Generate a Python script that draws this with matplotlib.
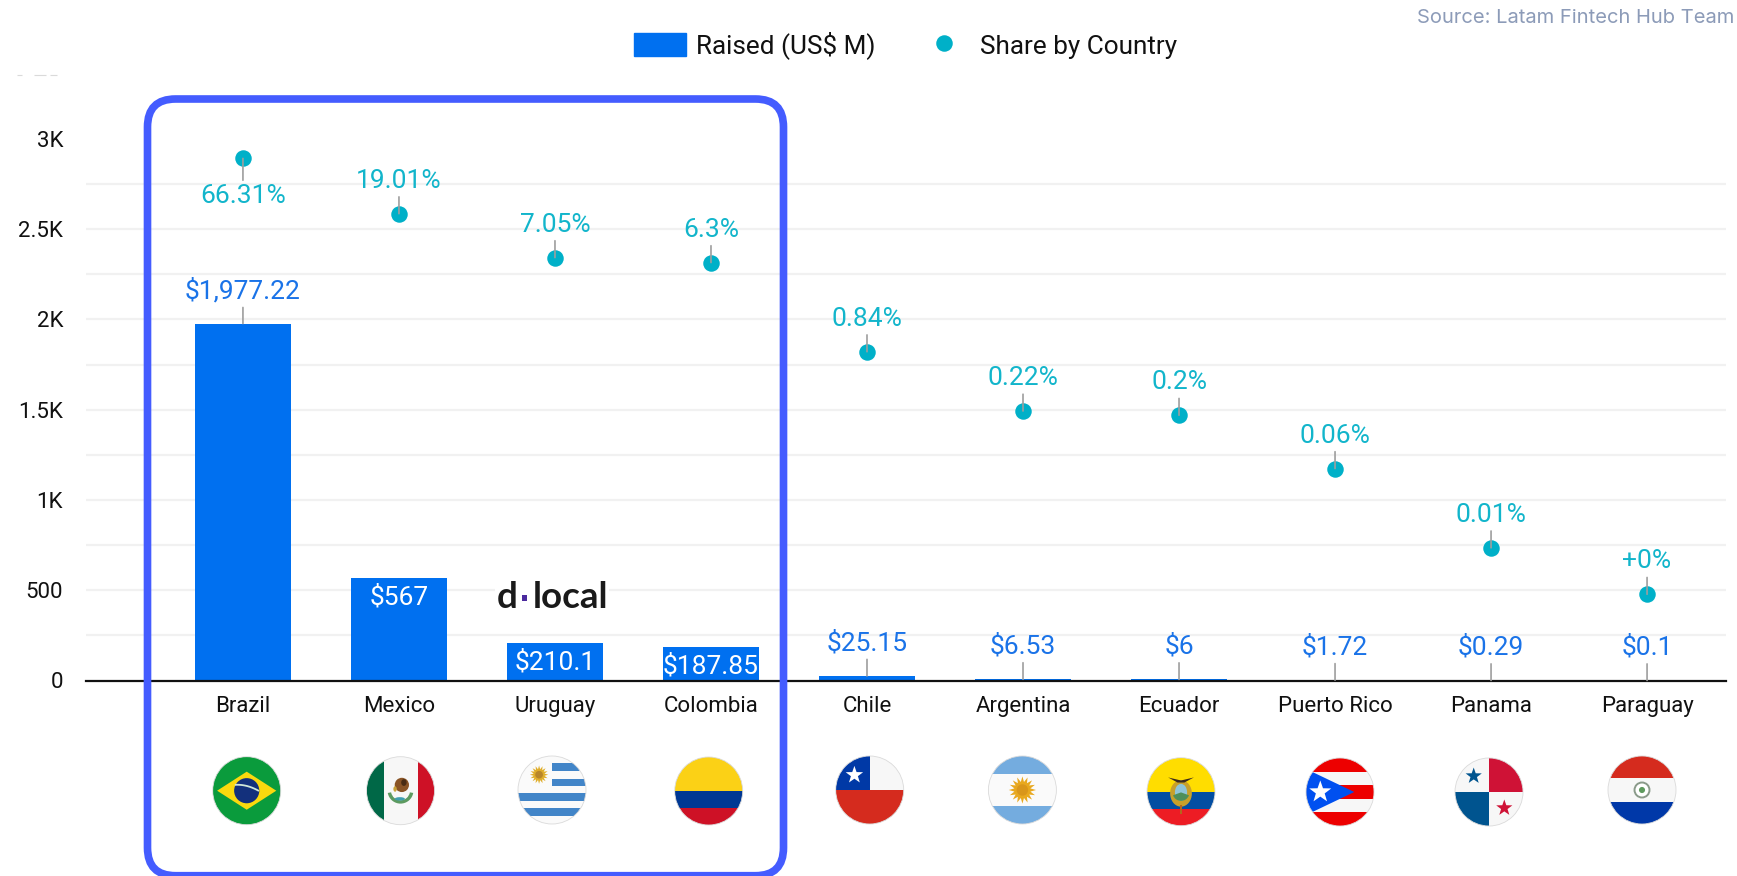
import numpy as np
import matplotlib
matplotlib.use("Agg")
import matplotlib.pyplot as plt
from matplotlib.patches import Rectangle, Circle, Polygon, FancyBboxPatch, Wedge, Ellipse
from matplotlib.lines import Line2D
from matplotlib.transforms import Affine2D

plt.rcParams['font.family'] = ['Roboto', 'DejaVu Sans']

countries = ["Brazil", "Mexico", "Uruguay", "Colombia", "Chile", "Argentina",
             "Ecuador", "Puerto Rico", "Panama", "Paraguay"]
raised = [1977.22, 567, 210.1, 187.85, 25.15, 6.53, 6, 1.72, 0.29, 0.1]
raised_labels = ["$1,977.22", "$567", "$210.1", "$187.85", "$25.15", "$6.53",
                 "$6", "$1.72", "$0.29", "$0.1"]
share = [66.31, 19.01, 7.05, 6.3, 0.84, 0.22, 0.2, 0.06, 0.01, 0.0035]
share_labels = ["66.31%", "19.01%", "7.05%", "6.3%", "0.84%", "0.22%", "0.2%",
                "0.06%", "0.01%", "+0%"]
y_ticks = [0, 500, 1000, 1500, 2000, 2500, 3000]
y_ticklabels = ["0", "500", "1K", "1.5K", "2K", "2.5K", "3K"]
y_grid = [250, 500, 750, 1000, 1250, 1500, 1750, 2000, 2250, 2500, 2750]

BAR = "#0070F0"
DOT = "#00B0C8"
SHARE_TXT = "#12B5CB"
BAR_TXT = "#1A73E8"
LEADER = "#9E9E9E"
BOX = "#445CFF"

W, H = 1737, 876
fig = plt.figure(figsize=(W / 100, H / 100), dpi=100, facecolor="white")
ax = fig.add_axes([86 / W, (H - 680.5) / H, 1640 / W, 605.5 / H])
x = np.arange(len(countries))
ax.set_xlim(-1.006, 9.506)
ax.set_ylim(0, 3354)
for s in ["top", "right", "left"]:
    ax.spines[s].set_visible(False)
ax.spines["bottom"].set_linewidth(1.6)
ax.spines["bottom"].set_color("#111111")
ax.spines["bottom"].set_zorder(6)
for g in y_grid:
    ax.axhline(g, color="#F1F1F1", lw=1.6, zorder=0)
bars = ax.bar(x, raised, width=0.618, color=BAR, zorder=2, label="Raised (US$ M)")
ax.set_yticks(y_ticks)
ax.set_yticklabels(y_ticklabels, fontsize=16, color="#111111")
ax.set_xticks(x)
ax.set_xticklabels(countries, fontsize=16, color="#111111")
ax.tick_params(axis="y", length=0, pad=16.5)
ax.tick_params(axis="x", length=0, pad=11.5)

ax2 = ax.twinx()
ax2.set_yscale("log")
ax2.set_ylim(10 ** -3.302, 10 ** 2.640)
ax2.axis("off")
dots = ax2.scatter(x, share, s=141, color=DOT, zorder=5, label="Share by Country", linewidths=0)


def note(a, xv, yv, text, off, color, leader=True):
    props = dict(arrowstyle="-", color=LEADER, lw=1.2, shrinkA=1, shrinkB=0) if leader else None
    a.annotate(text, xy=(xv, yv), xytext=(0, off), textcoords="offset pixels",
               ha="center", va="center", fontsize=19, color=color,
               arrowprops=props, zorder=7)


for i, (v, t) in enumerate(zip(raised, raised_labels)):
    if i in (1, 2, 3):
        note(ax, i, v, t, -19.5, "white", leader=False)
    else:
        note(ax, i, v, t, 33, BAR_TXT)
for i, (v, t) in enumerate(zip(share, share_labels)):
    note(ax2, i, v, t, -38 if i == 0 else 33, SHARE_TXT)

leg = fig.legend(handles=[Rectangle((0, 0), 1, 1, color=BAR),
                          Line2D([], [], marker="o", ls="", ms=11.9, color=DOT, mew=0)],
                 labels=["Raised (US$ M)", "Share by Country"],
                 ncol=2, frameon=False, fontsize=18.8, loc="center left",
                 bbox_to_anchor=(634 / W, (H - 45.5) / H), borderpad=0, borderaxespad=0,
                 handlelength=1.99, handleheight=0.96, handletextpad=0.38,
                 columnspacing=1.62, labelcolor="#111111")

fig.text(1734.5 / W, (H - 18) / H, "Source: Latam Fintech Hub Team", ha="right", va="center",
         fontsize=14.5, color="#8C9BB8", family=["Inter", "DejaVu Sans"])

# overlay in pixel coordinates for the annotation box, logo and flags
ov = fig.add_axes([0, 0, 1, 1], zorder=10)
ov.set_xlim(0, W)
ov.set_ylim(H, 0)
ov.axis("off")
ov.patch.set_alpha(0)

for x0, x1 in [(17, 22), (34, 46), (50, 57)]:
    ov.plot([x0, x1], [75, 75], color="#DADADA", lw=0.8, solid_capstyle="butt")

R_BOX = 28
ov.add_patch(FancyBboxPatch((147.5 + R_BOX, 99 + R_BOX), 636 - 2 * R_BOX, 776.7 - 2 * R_BOX,
                            boxstyle=f"round,pad={R_BOX},rounding_size={R_BOX}",
                            fc="none", ec=BOX, lw=5.5, zorder=3))
ov.add_patch(Rectangle((495, 578), 114, 32, fc="white", ec="none", zorder=1))
ov.text(497, 608, "d", fontsize=26.5, fontweight="bold", family=["Lato", "DejaVu Sans"],
        color="#1A1A1A", ha="left", va="baseline", zorder=4)
ov.add_patch(Rectangle((522, 595), 5, 5.7, fc="#4B2A9E", ec="none", zorder=4))
ov.text(533, 608, "local", fontsize=26.5, fontweight="bold", family=["Lato", "DejaVu Sans"],
        color="#1A1A1A", ha="left", va="baseline", zorder=4)

flag_x = [246.7, 400.5, 552, 708.7, 869.7, 1022.4, 1181, 1340, 1489, 1642]
flag_y = [790.7, 790.7, 790, 791, 790, 790, 791.7, 792, 792, 790]
FLAG_R = 34


def star(cx, cy, r, n=5, inner=0.4):
    ang = np.pi / 2 + np.arange(2 * n) * np.pi / n
    rad = np.where(np.arange(2 * n) % 2 == 0, r, r * inner)
    return np.column_stack([cx + rad * np.cos(ang), cy + rad * np.sin(ang)])


def sun(parts, cx, cy, r, c1="#E8A81E", c2="#C98A1B"):
    parts.append(Polygon(star(cx, cy, r, n=16, inner=0.6), fc=c1, ec="none"))
    parts.append(Circle((cx, cy), r * 0.42, fc=c2, ec="none"))


def rect(x0, y0, x1, y1, c):
    return Rectangle((x0, y0), x1 - x0, y1 - y0, fc=c, ec="none")


def flag_parts(name):
    p = []
    if name == "Brazil":
        p.append(rect(-1, -1, 1, 1, "#0A9B3C"))
        p.append(Polygon([(-.87, 0), (0, .56), (.87, 0), (0, -.56)], fc="#FAD90E", ec="none"))
        p.append(Circle((0, 0), .37, fc="#13307C", ec="none"))
        t = np.linspace(-.35, .36, 20)
        p.append(Polygon(np.column_stack([t, .12 - .25 * t - .45 * t ** 2 + .02]), closed=False,
                         fill=False, ec="#CFE6D8", lw=1.3))
    elif name == "Mexico":
        p += [rect(-1, -1, -.5, 1, "#006847"), rect(-.5, -1, .5, 1, "#F7F7F7"), rect(.5, -1, 1, 1, "#CE1126")]
        p.append(Wedge((0, .0), .38, 190, 350, width=.1, fc="#5C9A60", ec="none"))
        p.append(Ellipse((.04, .17), .42, .42, fc="#8A5426", ec="none"))
        p.append(Ellipse((.1, .24), .16, .2, fc="#4A2C14", ec="none"))
        p.append(Ellipse((-.02, -.24), .3, .1, fc="#3F9EB0", ec="none"))
        p.append(Ellipse((-.16, .05), .1, .16, fc="#C9A23A", ec="none"))
    elif name == "Uruguay":
        p.append(rect(-1, -1, 1, 1, "#FAFAFA"))
        for a, b, x0 in [(.57, .78, 0), (.13, .33, 0), (-.31, -.09, -1), (-.76, -.53, -1)]:
            p.append(rect(x0, a, 1, b, "#4285C8"))
        sun(p, -.38, .45, .27, "#E0AE2A", "#B8862A")
    elif name == "Colombia":
        p += [rect(-1, 0, 1, 1, "#FBD116"), rect(-1, -.5, 1, 0, "#003893"), rect(-1, -1, 1, -.5, "#CE1126")]
    elif name == "Chile":
        p += [rect(-1, 0, 1, 1, "#F7F7F7"), rect(-1, -1, 1, 0, "#D52B1E"), rect(-1, 0, 0, 1, "#0039A6")]
        p.append(Polygon(star(-.45, .44, .27), fc="white", ec="none"))
    elif name == "Argentina":
        p += [rect(-1, .46, 1, 1, "#74ACDF"), rect(-1, -.46, 1, .46, "#FAFAFA"), rect(-1, -1, 1, -.46, "#74ACDF")]
        sun(p, 0, 0, .4, "#E8A81E", "#D9961A")
    elif name == "Ecuador":
        p += [rect(-1, 0, 1, 1, "#FFDD00"), rect(-1, -.5, 1, 0, "#034EA2"), rect(-1, -1, 1, -.5, "#ED1C24")]
        p.append(Ellipse((0, -.05), .64, .78, fc="#C8A02A", ec="none"))
        p.append(Ellipse((0, -.02), .36, .5, fc="#8FC4D8", ec="none"))
        p.append(Wedge((0, -.02), .25, 200, 340, fc="#4E8F5A", ec="none"))
        p.append(Polygon([(-.38, .42), (0, .33), (.38, .42), (.1, .27), (-.1, .27)], fc="#3A2A1E", ec="none"))
        p.append(rect(-.04, -.65, .04, -.38, "#B5651D"))
    elif name == "Puerto Rico":
        p.append(rect(-1, -1, 1, 1, "#F7F7F7"))
        for a, b in [(.6, 1), (-.2, .2), (-1, -.6)]:
            p.append(rect(-1, a, 1, b, "#ED0000"))
        p.append(Polygon([(-1.15, .75), (-1.15, -.75), (.42, 0)], fc="#0050F0", ec="none"))
        p.append(Polygon(star(-.58, 0, .34), fc="white", ec="none"))
    elif name == "Panama":
        p += [rect(-1, 0, 0, 1, "#F7F7F7"), rect(0, 0, 1, 1, "#CF1236"),
              rect(-1, -1, 0, 0, "#00548F"), rect(0, -1, 1, 0, "#F7F7F7")]
        p.append(Polygon(star(-.45, .47, .25), fc="#00548F", ec="none"))
        p.append(Polygon(star(.45, -.47, .25), fc="#CF1236", ec="none"))
    elif name == "Paraguay":
        p += [rect(-1, .34, 1, 1, "#D52B1E"), rect(-1, -.34, 1, .34, "#F7F7F7"), rect(-1, -1, 1, -.34, "#0038A8")]
        p.append(Circle((0, 0), .22, fc="white", ec="#8A9A8A", lw=1.4))
        p.append(Circle((0, 0), .09, fc="#5E9A5E", ec="none"))
    return p


for name, fx, fy in zip(countries, flag_x, flag_y):
    tr = Affine2D().scale(FLAG_R, -FLAG_R).translate(fx, fy) + ov.transData
    clip = Circle((0, 0), 1, transform=tr, fc="none", ec="none")
    ov.add_patch(clip)
    for part in flag_parts(name):
        part.set_transform(tr)
        ov.add_patch(part)
        part.set_clip_path(clip)
    ov.add_patch(Circle((0, 0), 1, transform=tr, fc="none", ec="#DADADA", lw=0.6))

fig.savefig("out.png", dpi=100)
